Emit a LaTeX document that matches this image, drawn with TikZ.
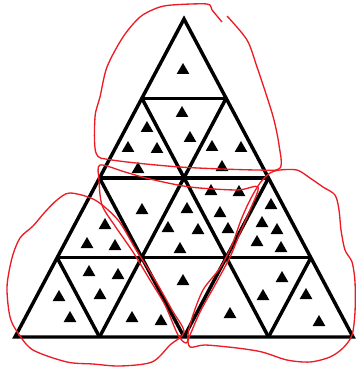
\documentclass[tikz,border=0pt]{standalone}
\usetikzlibrary{shapes.geometric}
\definecolor{clrgrid}{HTML}{000000}
\definecolor{clrmark}{HTML}{000000}
\definecolor{clrloop}{HTML}{ED1C24}

\begin{document}
\begin{tikzpicture}[
    x=0.75pt, y=-0.75pt,
    gridline/.style={draw=clrgrid, line width=2.6pt},
    marktri/.style={regular polygon, regular polygon sides=3, fill=clrmark,
                    inner sep=0pt, minimum size=11pt, yshift=-1pt},
    loopline/.style={draw=clrloop, line width=1pt},
]
\useasboundingbox (0,0) rectangle (357,370);
\coordinate (v_0_0) at (184,19);
\coordinate (v_1_0) at (142,98.5);
\coordinate (v_1_1) at (226,98.5);
\coordinate (v_2_0) at (99.5,178);
\coordinate (v_2_1) at (184,178);
\coordinate (v_2_2) at (268.5,178);
\coordinate (v_3_0) at (57,257.5);
\coordinate (v_3_1) at (142,257.5);
\coordinate (v_3_2) at (226,257.5);
\coordinate (v_3_3) at (311,257.5);
\coordinate (v_4_0) at (15,337);
\coordinate (v_4_1) at (99.5,337);
\coordinate (v_4_2) at (184,337);
\coordinate (v_4_3) at (268.5,337);
\coordinate (v_4_4) at (353,337);
\draw[gridline] (v_0_0) -- (v_4_0) -- (v_4_4) -- cycle;
\draw[gridline] (v_1_0) -- (v_1_1);
\draw[gridline] (v_2_0) -- (v_2_2);
\draw[gridline] (v_3_0) -- (v_3_3);
\draw[gridline] (v_1_1) -- (v_4_1);
\draw[gridline] (v_2_2) -- (v_4_2);
\draw[gridline] (v_3_3) -- (v_4_3);
\draw[gridline] (v_1_0) -- (v_4_3);
\draw[gridline] (v_2_0) -- (v_4_2);
\draw[gridline] (v_3_0) -- (v_4_1);
\node[marktri] (m_1) at (183,69) {};
\node[marktri] (m_2) at (147,127) {};
\node[marktri] (m_3) at (128,147) {};
\node[marktri] (m_4) at (157,148) {};
\node[marktri] (m_5) at (138,168) {};
\node[marktri] (m_6) at (182,112) {};
\node[marktri] (m_7) at (190,137) {};
\node[marktri] (m_8) at (212,146) {};
\node[marktri] (m_9) at (241,147) {};
\node[marktri] (m_10) at (222,166) {};
\node[marktri] (m_11) at (105,224) {};
\node[marktri] (m_12) at (87,243) {};
\node[marktri] (m_13) at (115,245) {};
\node[marktri] (m_14) at (142,209) {};
\node[marktri] (m_15) at (187,208) {};
\node[marktri] (m_16) at (168,227) {};
\node[marktri] (m_17) at (198,229) {};
\node[marktri] (m_18) at (180,248) {};
\node[marktri] (m_19) at (211,190) {};
\node[marktri] (m_20) at (239,191) {};
\node[marktri] (m_21) at (220,212) {};
\node[marktri] (m_22) at (228,228) {};
\node[marktri] (m_23) at (271,204) {};
\node[marktri] (m_24) at (262,222) {};
\node[marktri] (m_25) at (277,229) {};
\node[marktri] (m_26) at (257,241) {};
\node[marktri] (m_27) at (281,247) {};
\node[marktri] (m_28) at (59,296) {};
\node[marktri] (m_29) at (70,317) {};
\node[marktri] (m_30) at (89,271) {};
\node[marktri] (m_31) at (118,274) {};
\node[marktri] (m_32) at (100,294) {};
\node[marktri] (m_33) at (132,317) {};
\node[marktri] (m_34) at (161,320) {};
\node[marktri] (m_35) at (183,280) {};
\node[marktri] (m_36) at (230,313) {};
\node[marktri] (m_37) at (282,277) {};
\node[marktri] (m_38) at (263,295) {};
\node[marktri] (m_39) at (306,294) {};
\node[marktri] (m_40) at (319,321) {};
% freehand loops
\draw[loopline] plot[smooth] coordinates {(227,16) (247,40) (257,67) (267,97) (274,120) (279,145) (280,168) (257,170) (180,167) (112,160) (96,153) (95,117) (100,97) (107,67) (123,37) (140,17) (157,8) (172,5) (207,4) (212,10) (222,22)};
\draw[loopline] plot[smooth cycle] coordinates {(100,165) (125,172) (150,179) (190,187) (237,190) (258,187) (250,210) (240,233) (230,257) (215,285) (200,312) (190,335) (186,343) (178,335) (165,305) (150,280) (133,252) (115,226) (102,205) (99,180)};
\draw[loopline] plot[smooth cycle] coordinates {(70,193) (95,200) (118,220) (135,248) (155,280) (172,310) (184,332) (170,345) (152,362) (120,366) (93,364) (67,362) (33,350) (18,333) (10,317) (7,287) (12,258) (20,238) (33,226) (45,212) (57,200)};
\draw[loopline] plot[smooth cycle] coordinates {(270,173) (280,170) (297,170) (310,178) (323,187) (335,195) (339,210) (341,230) (345,250) (352,262) (355,282) (355,312) (352,335) (343,348) (330,357) (310,362) (287,360) (262,352) (237,348) (205,345) (190,347) (188,335) (192,318) (203,290) (220,268) (232,245) (241,220) (250,200) (260,183)};
\end{tikzpicture}
\end{document}
